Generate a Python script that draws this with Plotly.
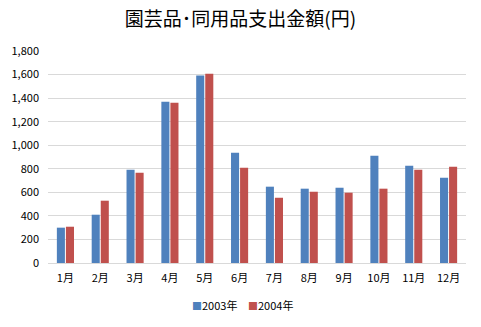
import plotly.graph_objects as go

months = ["1月", "2月", "3月", "4月", "5月", "6月", "7月", "8月", "9月", "10月", "11月", "12月"]
v2003 = [300, 410, 792, 1369, 1592, 936, 648, 631, 639, 911, 826, 724]
v2004 = [308, 529, 766, 1360, 1607, 809, 554, 605, 597, 631, 792, 817]
yticks = [0, 200, 400, 600, 800, 1000, 1200, 1400, 1600, 1800]
series_names = ["2003年", "2004年"]
colors = ["#4F81BD", "#C0504D"]

FONT = "Noto Sans CJK JP"

fig = go.Figure()
for name, vals, col in zip(series_names, [v2003, v2004], colors):
    fig.add_trace(go.Bar(x=months, y=vals, name=name, marker=dict(color=col, line=dict(width=0)),
                         showlegend=False))

# legend entries drawn as text items
for xpos, n, c in zip([0.398, 0.533], series_names, colors):
    fig.add_annotation(text=f"<span style='color:{c};font-size:10px'>■</span>{n}",
                       xref="paper", yref="paper", x=xpos, y=-0.2,
                       xanchor="center", yanchor="middle", showarrow=False,
                       font=dict(family=FONT, size=11, color="#000000"))

fig.update_layout(
    width=481, height=327,
    margin=dict(l=48, r=15, t=51, b=64, autoexpand=False),
    paper_bgcolor="white", plot_bgcolor="white",
    font=dict(family=FONT, size=11, color="#000000"),
    title=dict(text="園芸品･同用品支出金額(円)", x=0.5, xanchor="center", y=0.94, yanchor="middle",
               font=dict(family=FONT, size=19, color="#000000")),
    barmode="group", bargap=0.48, bargroupgap=0.11,
    xaxis=dict(showgrid=False, showline=True, linecolor="#D9D9D9", linewidth=1, ticks="",
               tickfont=dict(family=FONT, size=11), ticklabelstandoff=5, automargin=False),
    yaxis=dict(range=[0, 1800], tickvals=yticks, tickformat=",", showgrid=True, gridcolor="#D9D9D9",
               gridwidth=1, zeroline=False, showline=False, ticks="",
               tickfont=dict(family=FONT, size=11), ticklabelstandoff=8, automargin=False),
)

fig.write_html("out.html")
